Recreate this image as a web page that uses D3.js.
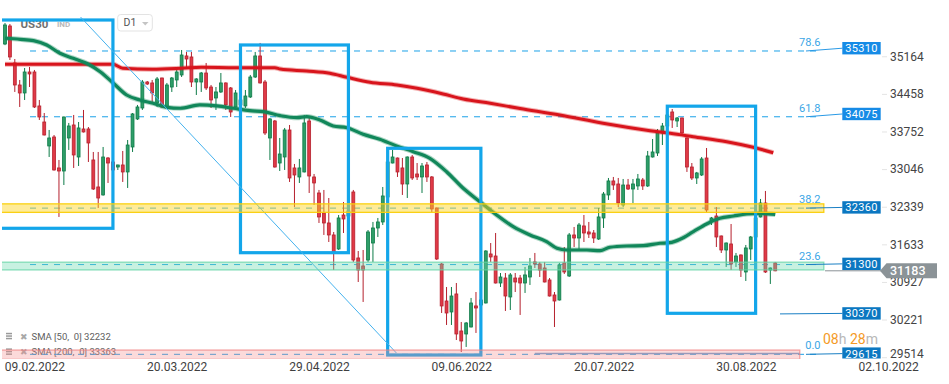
<!DOCTYPE html>
<html><head><meta charset="utf-8">
<script src="https://cdn.jsdelivr.net/npm/d3@7/dist/d3.min.js"></script>
<style>
html,body{margin:0;padding:0;background:#fff;}
svg{display:block;font-family:Roboto,"Noto Sans",sans-serif;}
</style></head><body>
<svg id="c" width="949" height="384"></svg>
<script>
// ---------------- DATA ----------------
const opens = [35442,35780,35085,34672,34522,34916,34916,34278,33977,33527,33696,33114,33057,33677,33921,33320,33846,33846,33264,32757,
32607,33301,33226,33132,33170,33039,33508,34034,34240,34728,34710,34334,34803,34259,34634,34766,34860,35217,35198,34728,
34728,34897,34634,34428,34541,34710,34616,34259,34297,34278,34447,34822,35217,34728,33677,33996,33207,33320,33827,33114,
32945,33039,33996,32945,32644,32269,32081,31856,31593,32231,32212,32663,31424,31274,31386,31705,31987,32100,32569,33207,
33301,33114,32813,33320,33001,32945,33170,32945,32363,31311,30616,30410,30748,30053,29997,30128,30523,30541,30579,31499,
31461,30954,31048,30692,31048,31048,30954,31067,31349,31311,31236,31011,30729,30635,31330,31086,31856,31799,32025,31912,
31893,31780,32175,32607,32870,32813,32419,32794,32719,32776,32888,32776,33320,33395,33771,33902,34165,33996,34052,33677,
33132,32926,32982,33301,32118,32212,31837,31574,31687,31349,31480,31161,31593,31818,32194,32456,31198,31330];
const highs = [35836,35817,35160,34766,34991,35010,34954,34390,34146,33827,33733,33264,34080,33959,34109,33977,34203,33883,33414,33414,
33508,33320,33264,33175,33433,33639,34146,34297,34766,34747,34766,34822,34810,34710,34822,34991,35329,35292,35292,34800,
34916,35085,34672,34634,34897,34720,34634,34578,34420,34578,34860,35292,35461,34766,34052,34015,33677,33865,33921,33189,
33283,34109,34052,33001,32701,32701,32550,31912,32231,32475,32344,32701,31555,31574,31949,32100,32175,32757,33452,33452,
33310,33301,33330,33358,33207,33207,33226,32963,32370,31330,30879,30879,30954,30222,30222,30673,30785,30710,31570,31705,
31893,31142,31142,31142,31142,31105,31255,31424,31518,31349,31349,31048,30785,31330,31630,31893,32006,32081,32231,32100,
31949,32363,32663,32926,32945,32926,32907,32907,32907,33001,32926,33433,33658,33846,33959,34203,34221,34071,34060,33685,
33207,33039,33320,33489,32194,32381,31845,31715,32062,31518,31490,31668,31837,32269,32532,32682,31245,31349];
const lows = [35420,35141,34541,34259,34390,34634,34240,34015,33725,33320,33065,32194,32794,33452,33114,33151,33780,33226,32701,32363,
32595,32832,32945,33076,32851,32738,33414,34015,34203,34672,34334,34259,34240,34250,34541,34634,34822,35010,34634,34484,
34541,34578,34240,34203,34522,34203,34071,34203,34280,34240,34428,34803,34700,33733,33264,33120,33057,33076,32851,32381,
32832,33030,32644,32419,32081,31856,31724,31198,31574,31893,32137,31349,30973,30598,31349,31349,31818,32043,32550,33200,
32945,32607,32550,32888,32888,32644,32851,32287,31386,30391,30166,30166,29884,29659,29753,30120,30016,30485,30570,31349,
30945,30879,30429,30447,30785,30354,30767,30917,31236,31067,30965,30700,30128,30625,31123,31067,31630,31574,31724,31799,
31705,31762,31987,32513,32701,32381,32381,32701,32456,32701,32701,32757,33310,33339,33545,33865,33865,33883,33733,33039,
32888,32813,32963,32287,32043,31630,31518,31255,31198,31255,31067,30992,31386,31762,32185,31142,30936,31175];
const closes = [35799,35198,34672,34522,34916,34879,34259,34071,33733,33677,33076,33057,34071,33902,33358,33865,33790,33583,32719,32550,
33320,33207,33076,33170,33039,33545,34128,34259,34728,34691,34522,34785,34259,34672,34803,34916,35235,35160,34728,34785,
34897,34616,34390,34541,34710,34297,34165,34522,34390,34465,34822,35217,34710,33771,34034,33132,33376,33827,32926,32982,
33114,33959,32963,32832,32194,32081,31856,31536,32175,32156,32306,31386,31198,31198,31912,31987,32100,32588,33226,33320,
33039,32813,33320,32926,32945,33151,32945,32344,31405,30523,30391,30710,29997,29865,30203,30579,30485,30635,31555,31443,
30954,31067,30710,31105,30973,30954,31105,31274,31311,31198,30973,30710,30616,31292,31161,31856,31799,32043,31893,31874,
31799,32194,32625,32870,32794,32456,32794,32719,32813,32907,32776,33339,33414,33771,33902,34109,34015,34052,33771,33132,
32926,33020,33283,32325,32175,31818,31574,31705,31311,31461,31198,31612,31818,32175,32456,31161,31236,31183];

const sma50Idx = [0,3.1,5.8,8.5,11.2,13.9,17.0,19.4,22.1,24.8,27.5,30.2,33.0,35.7,39.7,43.2,46.5,49.9,52.7,56.1,
59.5,61.5,64.2,66.9,69.7,73.0,76.4,79.8,83.2,86.6,90.0,93.4,96.8,100.2,103.6,107.0,110.4,112.5,114.5,118.6,
121.3,123.3,126.7,130.1,133.5,135.5,137.6,140.3,143.0,145.7,148.5,151.2,153.9,157];
const sma50Val = [35549,35530,35504,35423,35267,35173,35061,34922,34704,34484,34390,34328,34253,34235,34297,34278,34235,34190,34171,34096,
34058,34077,34015,33902,33870,33746,33652,33527,33420,33296,33044,32732,32481,32231,32011,31856,31730,31606,31574,31574,
31561,31625,31649,31655,31700,31711,31775,31918,32062,32169,32212,32250,32263,32240];
const sma200Idx = [0,11,22,24,30,36,40,47,55,56.1,61.5,66.2,69.7,74.4,79.9,84,89.3,93.4,98.9,105,113.1,121.9,131.5,135.6,140.3,147.1,152.5,156.6];
const sma200Val = [35061,35061,35061,34985,34966,34985,35004,34997,34997,34972,34934,34892,34817,34723,34672,34610,34503,34409,34328,34231,34109,33953,33814,33765,33701,33607,33502,33400];

const yTickValues = [35164,34458,33752,33046,32339,31633,30927,30221,29514];
const xTickIdx = [6,35,64,93,122,151,180];
const xTickLabels = ["09.02.2022","20.03.2022","29.04.2022","09.06.2022","20.07.2022","30.08.2022","02.10.2022"];

const fibRatios = ["78.6","61.8","38.2","23.6","0.0"];
const fibPrices = [35310,34075,32360,31300,29615];
const levelPrices = [35310,34075,32360,31300,30370,29615];
const lastPrice = 31183;
const smaLegend = ["SMA [50,  0] 32232","SMA [200,  0] 33363"];

// zones: [i0, i1, top price, bottom price]
const zoneYellow = [-3,166.9,32440,32280];
const zoneGreen  = [-3,166.9,31345,31200];
const zonePink   = [-3,162.0,29695,29520];
// rectangles drawn on chart: [i0, i1, top, bottom]
const boxes = [[-4,22,35892,31981],[48,70,35423,31523],[78,97,33483,29602],[135,153,34274,30385]];
const diagLine = [[15.39,35949],[79.84,29634]];
const bottomLine = [[108,29630],[162,29630]];

// ---------------- CHART ----------------
const svg = d3.select("#c");
const x = d3.scaleLinear().domain([0,180]).range([5,5+180*4.906]);
const y = d3.scaleLinear().domain([29000,36000]).range([387.07,14.25]);

// header
svg.append("text").attr("x",20.5).attr("y",27.5).attr("font-size",11.5).attr("font-weight",700).attr("fill","#707070").text("US30");
svg.append("text").attr("x",57).attr("y",27).attr("font-size",8).attr("font-weight",700).attr("fill","#b8b8b8").text("IND");
svg.append("rect").attr("x",117.7).attr("y",14.5).attr("width",34.6).attr("height",16.5).attr("rx",3).attr("fill","#fff").attr("stroke","#e3e3e3");
svg.append("text").attr("x",123.5).attr("y",26.3).attr("font-size",10.5).attr("fill","#555").text("D1");
svg.append("path").attr("d","M142,22L148.5,22L145.25,25.5Z").attr("fill","#c4c4c4");

// legend (bottom-left)
smaLegend.forEach((t,k)=>{
  const cy = 336.5 + k*15.6;
  const g = svg.append("g");
  [ -3, -0.5, 2 ].forEach(dy=> g.append("rect").attr("x",6).attr("y",cy+dy-0.7).attr("width",6).attr("height",1.5).attr("fill","#9a9a9a"));
  g.append("text").attr("x",19.5).attr("y",cy+3).attr("font-size",8.5).attr("fill","#a8a8a8").text("✖");
  g.append("text").attr("x",31.5).attr("y",cy+3.3).attr("font-size",9.5).attr("fill","#606060").attr("xml:space","preserve").style("white-space","pre").text(t);
});

// plot area with clip
svg.append("defs").append("clipPath").attr("id","plotclip").append("rect").attr("x",2).attr("y",17).attr("width",826).attr("height",342);
const plot = svg.append("g").attr("clip-path","url(#plotclip)");

// fib dashed lines
plot.selectAll("line.fib").data(fibPrices).join("line")
  .attr("x1",x(5.1)).attr("x2",x(166.5)).attr("y1",d=>y(d)).attr("y2",d=>y(d))
  .attr("stroke","#1ba1e8").attr("stroke-width",1).attr("stroke-dasharray","6,6");

// candles
const data = opens.map((o,i)=>({i,o,h:highs[i],l:lows[i],c:closes[i]}));
const up = d=>d.c>=d.o;
plot.append("g").selectAll("line").data(data).join("line")
  .attr("x1",d=>x(d.i)).attr("x2",d=>x(d.i)).attr("y1",d=>y(d.h)).attr("y2",d=>y(d.l))
  .attr("stroke",d=>up(d)?"#0d7b48":"#b5202d").attr("stroke-width",1);
plot.append("g").selectAll("rect").data(data).join("rect")
  .attr("x",d=>x(d.i)-1.45).attr("width",2.9)
  .attr("y",d=>y(Math.max(d.o,d.c))).attr("height",d=>Math.max(1,Math.abs(y(d.o)-y(d.c))))
  .attr("fill",d=>up(d)?"#2e9e68":"#e03a47").attr("stroke",d=>up(d)?"#0d7b48":"#b5202d").attr("stroke-width",0.8);

// SMA lines
const smaLine = d3.line().x(d=>x(d[0])).y(d=>y(d[1])).curve(d3.curveMonotoneX);
const s200 = sma200Idx.map((v,k)=>[v,sma200Val[k]]);
const s50 = sma50Idx.map((v,k)=>[v,sma50Val[k]]);
plot.append("path").attr("d",smaLine(s200)).attr("fill","none").attr("stroke","rgba(220,30,30,0.35)").attr("stroke-width",5);
plot.append("path").attr("d",smaLine(s200)).attr("fill","none").attr("stroke","#d8141c").attr("stroke-width",3);
plot.append("path").attr("d",smaLine(s50)).attr("fill","none").attr("stroke","rgba(20,140,90,0.35)").attr("stroke-width",5.2);
plot.append("path").attr("d",smaLine(s50)).attr("fill","none").attr("stroke","#11875a").attr("stroke-width",3.2);

// boxes
plot.selectAll("rect.box").data(boxes).join("rect")
  .attr("x",d=>x(d[0])).attr("width",d=>x(d[1])-x(d[0]))
  .attr("y",d=>y(d[2])).attr("height",d=>y(d[3])-y(d[2]))
  .attr("fill","none").attr("stroke","#13a6ea").attr("stroke-width",3.2);

// diagonal and bottom trend lines
const lin = d3.line().x(d=>x(d[0])).y(d=>y(d[1]));
plot.append("path").attr("d",lin(diagLine)).attr("stroke","#45b2ee").attr("stroke-width",1).attr("fill","none");
plot.append("path").attr("d",lin(bottomLine)).attr("stroke","#6f9fcf").attr("stroke-width",1.3).attr("fill","none");

// zones (semi-transparent, on top)
function zone(z, fill, stroke){
  plot.append("rect").attr("x",x(z[0])).attr("width",x(z[1])-x(z[0]))
    .attr("y",y(z[2])).attr("height",y(z[3])-y(z[2]))
    .attr("fill",fill).attr("stroke",stroke).attr("stroke-width",1.3);
}
zone(zoneYellow,"rgba(252,214,40,0.48)","rgba(250,205,10,0.95)");
zone(zoneGreen,"rgba(110,218,175,0.38)","rgba(100,212,165,0.75)");
zone(zonePink,"rgba(245,140,140,0.32)","rgba(240,130,130,0.7)");

// fib labels
svg.selectAll("text.fib").data(fibPrices).join("text")
  .attr("x",820.5).attr("y",d=>Math.min(y(d)-5,352)).attr("text-anchor","end")
  .attr("font-size",11).attr("fill","#3ba6e6").text((d,k)=>fibRatios[k]);

// y axis ticks
const yAxis = d3.axisRight(y).tickValues(yTickValues).tickSize(5).tickPadding(3).tickFormat(d3.format("d"));
const yg = svg.append("g").attr("transform","translate(882,-2.5)").call(yAxis);
yg.select(".domain").remove();
yg.selectAll(".tick line").attr("stroke","#e4e4e4");
yg.selectAll(".tick text").attr("font-size",12).attr("fill","#444").attr("font-family","Roboto,sans-serif")
  .attr("dy",d=>y(d)-2.5>352?(353.5-(y(d)-2.5))+"px":"0.32em");
yg.selectAll(".tick text").filter(d=>y(d)-2.5>352).attr("dy",(d)=>(353.5-(y(d)-2.5)+4)+"px");

// connector lines + price boxes
const rg = svg.append("g");
const boxClip = svg.select("defs").append("clipPath").attr("id","rclip");
boxClip.append("rect").attr("x",780).attr("y",0).attr("width",169).attr("height",358.4);
const rgc = rg.append("g").attr("clip-path","url(#rclip)");
levelPrices.forEach((p,k)=>{
  const cy = y(p) + (k<2 ? -2.8 : -0.7);
  const x0 = (p===30370) ? x(153) : 806;
  rgc.append("line").attr("x1",x0).attr("y1",y(p)).attr("x2",842.5).attr("y2",cy)
    .attr("stroke",k<2?"#2a9ae6":"#1a7fc4").attr("stroke-width",1);
  rgc.append("rect").attr("x",842.3).attr("y",cy-6.2).attr("width",38.4).attr("height",12.4)
    .attr("fill",k<2?"#168be6":"#0b77c1");
  rgc.append("text").attr("x",861.5).attr("y",cy+4).attr("text-anchor","middle")
    .attr("font-size",11).attr("fill","#fff").attr("letter-spacing","0.3").text(p);
});

// current price line + label
const ly = y(lastPrice);
svg.append("line").attr("x1",825).attr("x2",881).attr("y1",ly).attr("y2",ly).attr("stroke","#8a9296").attr("stroke-width",1);
svg.append("path").attr("d",`M880,${ly}L886.5,${ly-7.5}L937,${ly-7.5}L937,${ly+7.5}L886.5,${ly+7.5}Z`).attr("fill","#8b9397");
svg.append("text").attr("x",890).attr("y",ly+4.3).attr("font-size",12.5).attr("font-weight",500).attr("fill","#fff").text(lastPrice);

// countdown
const cd = svg.append("text").attr("x",823).attr("y",344).attr("font-size",14);
cd.append("tspan").attr("fill","#f49a26").text("08");
cd.append("tspan").attr("fill","#b8b8b8").text("h ");
cd.append("tspan").attr("fill","#f49a26").text("28");
cd.append("tspan").attr("fill","#b8b8b8").text("m");

// x axis
const xAxis = d3.axisBottom(x).tickValues(xTickIdx).tickSize(0).tickPadding(0).tickFormat((d,k)=>xTickLabels[k]);
const xg = svg.append("g").attr("transform","translate(0,362)").call(xAxis);
xg.select(".domain").remove();
xg.selectAll(".tick text").attr("font-size",12).attr("fill","#3f3f3f").attr("font-family","Roboto,sans-serif").attr("dy","0.71em");
</script>
</body></html>
